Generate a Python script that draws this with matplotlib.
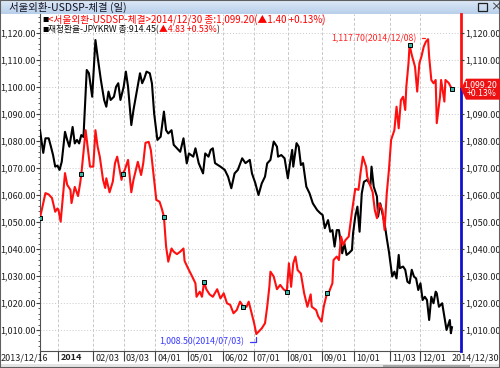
import matplotlib
matplotlib.use("Agg")
import matplotlib.pyplot as plt
import matplotlib.dates as mdates
import matplotlib.transforms as mtrans
import numpy as np
import pandas as pd
from matplotlib.patches import Rectangle, Polygon

plt.rcParams['font.family'] = ['Noto Sans CJK KR', 'DejaVu Sans']

# USD/KRW close (red)
usd_dates = [
    '2013-12-16', '2013-12-21', '2013-12-24', '2013-12-27', '2013-12-30', '2014-01-01', '2014-01-02',
    '2014-01-04', '2014-01-08', '2014-01-10', '2014-01-13', '2014-01-14', '2014-01-17', '2014-01-20',
    '2014-01-22', '2014-01-23', '2014-01-27', '2014-01-31', '2014-02-03', '2014-02-05', '2014-02-07',
    '2014-02-09', '2014-02-12', '2014-02-14', '2014-02-15', '2014-02-18', '2014-02-21', '2014-02-23',
    '2014-02-25', '2014-03-01', '2014-03-02', '2014-03-04', '2014-03-07', '2014-03-10', '2014-03-12',
    '2014-03-15', '2014-03-16', '2014-03-19', '2014-03-21', '2014-03-23', '2014-03-26', '2014-03-28',
    '2014-03-30', '2014-04-02', '2014-04-05', '2014-04-07', '2014-04-09', '2014-04-11', '2014-04-13',
    '2014-04-16', '2014-04-18', '2014-04-21', '2014-04-24', '2014-04-27', '2014-04-28', '2014-05-01',
    '2014-05-05', '2014-05-08', '2014-05-09', '2014-05-12', '2014-05-14', '2014-05-16', '2014-05-18',
    '2014-05-21', '2014-05-24', '2014-05-28', '2014-05-31', '2014-06-03', '2014-06-06', '2014-06-09',
    '2014-06-12', '2014-06-15', '2014-06-18', '2014-06-21', '2014-06-24', '2014-06-26', '2014-06-29',
    '2014-07-01', '2014-07-03', '2014-07-08', '2014-07-11', '2014-07-13', '2014-07-15', '2014-07-16',
    '2014-07-19', '2014-07-22', '2014-07-25', '2014-07-28', '2014-07-31', '2014-08-02', '2014-08-04',
    '2014-08-06', '2014-08-08', '2014-08-10', '2014-08-13', '2014-08-16', '2014-08-19', '2014-08-22',
    '2014-08-23', '2014-08-27', '2014-08-29', '2014-09-01', '2014-09-03', '2014-09-06', '2014-09-08',
    '2014-09-11', '2014-09-12', '2014-09-15', '2014-09-17', '2014-09-19', '2014-09-21', '2014-09-23',
    '2014-09-26', '2014-09-29', '2014-10-02', '2014-10-05', '2014-10-07', '2014-10-09', '2014-10-12',
    '2014-10-13', '2014-10-15', '2014-10-18', '2014-10-20', '2014-10-22', '2014-10-24', '2014-10-27',
    '2014-10-29', '2014-10-31', '2014-11-02', '2014-11-04', '2014-11-07', '2014-11-09', '2014-11-11',
    '2014-11-13', '2014-11-15', '2014-11-17', '2014-11-18', '2014-11-20', '2014-11-21', '2014-11-23',
    '2014-11-26', '2014-11-28', '2014-11-30', '2014-12-02', '2014-12-04', '2014-12-06', '2014-12-08',
    '2014-12-09', '2014-12-11', '2014-12-13', '2014-12-15', '2014-12-16', '2014-12-19', '2014-12-20',
    '2014-12-23', '2014-12-24', '2014-12-27', '2014-12-30',
]
usd_close = [
    1051.5, 1060.7, 1060.2, 1058.9, 1053.8, 1055.0, 1054.5,
    1050.1, 1068.1, 1063.8, 1061.9, 1057.0, 1063.0, 1059.6,
    1064.5, 1067.6, 1084.0, 1070.5, 1070.5, 1084.0, 1077.9,
    1074.2, 1065.6, 1062.6, 1066.2, 1061.0, 1065.0, 1071.8,
    1074.2, 1065.6, 1067.8, 1069.3, 1073.0, 1061.0, 1065.6,
    1070.5, 1072.3, 1067.4, 1071.8, 1079.3, 1079.7, 1076.6,
    1069.3, 1058.2, 1057.5, 1055.0, 1052.0, 1040.9, 1035.3,
    1040.2, 1039.0, 1038.1, 1039.0, 1040.2, 1035.6, 1033.0,
    1029.8, 1027.3, 1022.3, 1024.2, 1022.3, 1027.8, 1025.1,
    1023.2, 1022.3, 1025.1, 1021.7, 1023.6, 1019.9, 1019.3,
    1016.2, 1017.4, 1020.5, 1018.6, 1018.6, 1020.5, 1015.6,
    1012.5, 1008.5, 1010.6, 1012.5, 1018.6, 1026.0, 1031.6,
    1029.8, 1025.1, 1026.7, 1025.1, 1024.2, 1034.7, 1026.0,
    1034.7, 1037.2, 1032.2, 1030.9, 1023.6, 1018.6, 1023.2,
    1018.6, 1017.4, 1015.0, 1013.1, 1018.6, 1023.6, 1024.2,
    1027.3, 1035.9, 1037.2, 1035.9, 1044.6, 1041.5, 1043.3,
    1044.6, 1053.8, 1062.3, 1061.9, 1068.6, 1074.2, 1070.5,
    1066.8, 1064.3, 1061.1, 1054.4, 1051.4, 1056.9, 1054.4,
    1047.0, 1060.6, 1069.3, 1080.4, 1084.0, 1092.7, 1084.7,
    1095.1, 1096.4, 1091.5, 1100.1, 1108.8, 1115.6, 1111.9,
    1107.5, 1098.3, 1108.8, 1111.4, 1114.9, 1116.8, 1117.7,
    1111.2, 1102.6, 1101.4, 1102.6, 1086.6, 1096.4, 1102.6,
    1094.6, 1102.6, 1101.5, 1099.2,
]

# JPY/KRW overlay (black), drawn on the same price scale
jpy_dates = [
    '2013-12-16', '2013-12-19', '2013-12-21', '2013-12-24', '2013-12-26', '2013-12-28', '2013-12-30',
    '2014-01-01', '2014-01-03', '2014-01-05', '2014-01-08', '2014-01-10', '2014-01-12', '2014-01-15',
    '2014-01-17', '2014-01-19', '2014-01-21', '2014-01-23', '2014-01-25', '2014-01-28', '2014-01-30',
    '2014-02-02', '2014-02-05', '2014-02-07', '2014-02-10', '2014-02-13', '2014-02-15', '2014-02-17',
    '2014-02-19', '2014-02-22', '2014-02-24', '2014-02-26', '2014-02-28', '2014-03-03', '2014-03-05',
    '2014-03-07', '2014-03-10', '2014-03-12', '2014-03-15', '2014-03-18', '2014-03-20', '2014-03-22',
    '2014-03-24', '2014-03-27', '2014-03-29', '2014-03-31', '2014-04-03', '2014-04-06', '2014-04-09',
    '2014-04-11', '2014-04-13', '2014-04-16', '2014-04-18', '2014-04-21', '2014-04-24', '2014-04-27',
    '2014-04-30', '2014-05-02', '2014-05-06', '2014-05-08', '2014-05-11', '2014-05-15', '2014-05-17',
    '2014-05-20', '2014-05-22', '2014-05-24', '2014-05-26', '2014-05-31', '2014-06-04', '2014-06-07',
    '2014-06-10', '2014-06-13', '2014-06-16', '2014-06-20', '2014-06-23', '2014-06-27', '2014-06-29',
    '2014-07-02', '2014-07-05', '2014-07-08', '2014-07-11', '2014-07-13', '2014-07-16', '2014-07-19',
    '2014-07-22', '2014-07-23', '2014-07-26', '2014-07-29', '2014-08-01', '2014-08-03', '2014-08-05',
    '2014-08-06', '2014-08-09', '2014-08-11', '2014-08-13', '2014-08-15', '2014-08-18', '2014-08-21',
    '2014-08-24', '2014-08-28', '2014-08-31', '2014-09-02', '2014-09-04', '2014-09-07', '2014-09-09',
    '2014-09-11', '2014-09-13', '2014-09-15', '2014-09-17', '2014-09-20', '2014-09-22', '2014-09-24',
    '2014-09-26', '2014-09-29', '2014-09-30', '2014-10-02', '2014-10-04', '2014-10-06', '2014-10-08',
    '2014-10-10', '2014-10-13', '2014-10-16', '2014-10-17', '2014-10-19', '2014-10-22', '2014-10-23',
    '2014-10-25', '2014-10-27', '2014-10-29', '2014-10-31', '2014-11-02', '2014-11-05', '2014-11-07',
    '2014-11-09', '2014-11-11', '2014-11-12', '2014-11-15', '2014-11-17', '2014-11-19', '2014-11-21',
    '2014-11-23', '2014-11-25', '2014-11-27', '2014-11-29', '2014-12-01', '2014-12-03', '2014-12-05',
    '2014-12-07', '2014-12-09', '2014-12-11', '2014-12-13', '2014-12-15', '2014-12-16', '2014-12-18',
    '2014-12-21', '2014-12-23', '2014-12-25', '2014-12-28', '2014-12-29', '2014-12-30',
]
jpy_close = [
    1084.0, 1075.6, 1081.0, 1081.0, 1078.0, 1074.8, 1070.5,
    1070.9, 1069.3, 1072.3, 1083.4, 1080.4, 1077.9, 1085.2,
    1079.1, 1080.4, 1079.1, 1082.2, 1081.5, 1106.3, 1105.1,
    1096.4, 1117.4, 1111.2, 1102.6, 1095.2, 1092.7, 1098.3,
    1095.2, 1096.4, 1100.1, 1101.4, 1095.2, 1100.1, 1105.7,
    1100.1, 1085.9, 1091.5, 1098.3, 1105.1, 1101.4, 1103.2,
    1105.7, 1105.1, 1101.3, 1090.2, 1080.4, 1081.6, 1090.9,
    1084.0, 1082.8, 1084.0, 1078.6, 1077.3, 1076.0, 1081.0,
    1071.7, 1075.4, 1074.2, 1077.3, 1071.8, 1068.0, 1075.4,
    1074.2, 1076.7, 1077.3, 1071.8, 1070.5, 1069.3, 1066.8,
    1062.5, 1068.0, 1069.3, 1073.6, 1071.8, 1073.0, 1068.0,
    1064.5, 1060.0, 1064.3, 1066.8, 1071.7, 1073.0, 1079.8,
    1077.9, 1074.2, 1074.8, 1073.6, 1066.2, 1071.8, 1076.7,
    1070.5, 1079.2, 1077.9, 1071.1, 1071.8, 1063.1, 1060.6,
    1056.9, 1054.4, 1053.2, 1052.6, 1047.7, 1050.7, 1046.4,
    1047.0, 1040.9, 1047.0, 1047.0, 1038.4, 1042.1, 1037.8,
    1038.4, 1039.6, 1045.8, 1052.0, 1055.7, 1046.4, 1060.6,
    1064.9, 1065.6, 1063.7, 1070.5, 1063.1, 1059.4, 1052.0,
    1056.9, 1053.2, 1049.5, 1044.0, 1039.0, 1029.8, 1031.6,
    1029.1, 1037.8, 1032.9, 1033.5, 1032.3, 1027.9, 1027.3,
    1032.3, 1029.8, 1029.1, 1024.8, 1027.3, 1021.1, 1022.3,
    1021.1, 1013.7, 1022.3, 1019.9, 1024.2, 1023.6, 1018.6,
    1019.9, 1015.0, 1010.0, 1013.7, 1008.8, 1011.0,
]

signal_dates = ['2013-12-16', '2014-01-23', '2014-03-02', '2014-04-09', '2014-05-16',
                '2014-06-21', '2014-07-31', '2014-09-06', '2014-11-21', '2014-12-30']

tick_dates = ['2013-12-16', '2014-01-02', '2014-02-03', '2014-03-03', '2014-04-01', '2014-05-01',
              '2014-06-02', '2014-07-01', '2014-08-01', '2014-09-01', '2014-10-01', '2014-11-03',
              '2014-12-01']
tick_labels = ['', '2014', '02/03', '03/03', '04/01', '05/01', '06/02', '07/01', '08/01',
               '09/01', '10/01', '11/03', '12/01']
y_ticks = [1010, 1020, 1030, 1040, 1050, 1060, 1070, 1080, 1090, 1100, 1110, 1120]

usd = pd.Series(usd_close, index=pd.to_datetime(usd_dates))
jpy = pd.Series(jpy_close, index=pd.to_datetime(jpy_dates))

W, H = 500, 368
fig = plt.figure(figsize=(W / 100, H / 100), dpi=100)
fig.patch.set_facecolor('white')

def fx(px):
    return px / W

def fy(py):
    return 1 - py / H

# title bar with a soft blue gradient
bar = fig.add_axes([0, fy(14), 1, 14 / H])
grad = np.linspace(0, 1, 20).reshape(-1, 1)
bar.imshow(grad, aspect='auto', cmap=matplotlib.colors.LinearSegmentedColormap.from_list(
    'bar', ['#dde9f7', '#b9cfea']), extent=[0, 1, 0, 1])
bar.set_axis_off()
fig.text(fx(9), fy(7), '서울외환-USDSP-체결 (일)', fontsize=7.5, va='center', color='#101020')
fig.patches.append(Rectangle((fx(478), fy(11)), fx(9), 8 / H, transform=fig.transFigure,
                             fill=False, edgecolor='#202020', lw=0.9))
fig.text(fx(490), fy(7), '×', fontsize=8, va='center', color='#202020')

# bottom strip
fig.patches.append(Rectangle((0, 0), 1, 4 / H, transform=fig.transFigure,
                             facecolor='#e4e4e4', edgecolor='none'))
fig.patches.append(Rectangle((fx(383), 0), fx(87), 3 / H, transform=fig.transFigure,
                             facecolor='#a8a8a8', edgecolor='none'))

ax = fig.add_axes([fx(40), 17 / H, 421 / W, 337 / H])
x0 = mdates.date2num(pd.Timestamp('2013-12-16'))
ax.set_xlim(x0, x0 + 387.3)
ax.set_ylim(1002.22, 1127.04)

ax.plot(jpy.index, jpy.values, color='black', lw=1.5, zorder=3)
ax.plot(usd.index, usd.values, color='#ff1010', lw=1.5, zorder=4)
sig = usd.loc[pd.to_datetime(signal_dates)]
ax.plot(sig.index, sig.values, 's', ms=3.5, mfc='#3cb8a8', mec='black', mew=0.7, zorder=5)

ax.set_yticks(y_ticks)
ax.set_yticklabels([f'{v:,.2f}' for v in y_ticks], fontsize=6.5, color='#202020')
ax.yaxis.set_minor_locator(matplotlib.ticker.MultipleLocator(2))
ax.tick_params(axis='y', which='major', length=3, width=0.8, color='#404040', pad=0)
ax.tick_params(axis='y', which='minor', length=1.5, width=0.6, color='#404040')
ax.set_xticks(pd.to_datetime(tick_dates))
ax.set_xticklabels(tick_labels, fontsize=6.5, color='#202020', ha='left')
ax.get_xticklabels()[1].set_fontweight('bold')
ax.tick_params(axis='x', length=7, width=0.8, color='#404040', pad=-5.5)
offset = mtrans.ScaledTranslation(2 / 100, 0, fig.dpi_scale_trans)
for lab in ax.get_xticklabels():
    lab.set_transform(lab.get_transform() + offset)

ax.grid(True, axis='y', color='#c8c8c8', ls=(0, (1, 2)), lw=0.7)
ax.grid(True, axis='x', color='#c8c8c8', ls=(0, (3, 2)), lw=0.7)
for s in ['top', 'right']:
    ax.spines[s].set_visible(False)
ax.spines['left'].set_color('#505050')
ax.spines['bottom'].set_color('#505050')

fig.text(fx(1), fy(358), '2013/12/16', fontsize=6.5, va='center', color='#202020')
fig.text(fx(499), fy(358), '2014/12/30', fontsize=6.5, va='center', ha='right', color='#202020')

# right price scale (the last-price tag covers 1,100.00)
ax2 = ax.twinx()
ax2.set_ylim(ax.get_ylim())
ax2.set_yticks(y_ticks)
ax2.set_yticklabels(['' if v == 1100 else f'{v:,.2f}' for v in y_ticks], fontsize=6.5, color='#202020')
ax2.tick_params(axis='y', length=2, width=0.8, color='#404040', pad=1)
for s in ax2.spines.values():
    s.set_visible(False)

last = usd.iloc[-1]
ymin, ymax = ax.get_ylim()
frac = (last - ymin) / (ymax - ymin)
ax.axvline(ax.get_xlim()[1], ymin=frac, ymax=1, color='#ff1010', lw=2, clip_on=False, zorder=6)
ax.axvline(ax.get_xlim()[1], ymin=0, ymax=frac, color='#1010d0', lw=2, clip_on=False, zorder=6)

# last price tag
ty = ax.transData.transform((x0, last))[1] / fig.dpi / (H / 100)
hh = 10.5 / H
tag = Polygon([(fx(461), ty), (fx(466), ty + hh), (1.0, ty + hh), (1.0, ty - hh), (fx(466), ty - hh)],
              closed=True, transform=fig.transFigure, facecolor='#ee1111', edgecolor='none', zorder=10)
fig.patches.append(tag)
fig.text(fx(497), ty + 4.5 / H, f'{last:,.2f}', fontsize=6.3, ha='right', va='center', color='white', zorder=11)
fig.text(fx(497), ty - 4.5 / H, '+0.13%', fontsize=6.3, ha='right', va='center', color='white', zorder=11)

# max / min annotations
imax = usd.idxmax()
imin = usd.idxmin()
ax.annotate(f'{usd.max():,.2f}({imax:%Y/%m/%d})', xy=(imax, usd.max()), xytext=(-12, 1),
            textcoords='offset pixels', ha='right', va='center', fontsize=6.3, color='#ff2020',
            arrowprops=dict(arrowstyle='-', color='#ff2020', lw=0.9,
                            connectionstyle='angle,angleA=0,angleB=90,rad=0'), zorder=7)
ax.annotate(f'{usd.min():,.2f}({imin:%Y/%m/%d})', xy=(imin, usd.min()), xytext=(-12, -8),
            textcoords='offset pixels', ha='right', va='center', fontsize=6.3, color='#3838ff',
            arrowprops=dict(arrowstyle='-', color='#3838ff', lw=0.9,
                            connectionstyle='angle,angleA=0,angleB=90,rad=0'),
            annotation_clip=False, zorder=7)

# legend lines
t = fig.text(fx(42), fy(20), '■', fontsize=4.5, va='center', color='black')
ax.annotate('<서울외환-USDSP-체결>2014/12/30 종:1,099.20(▲1.40 +0.13%)', xy=(1, 0.5),
            xycoords=t, va='center', fontsize=7, color='#ff0000', annotation_clip=False)
t = fig.text(fx(42), fy(30), '■', fontsize=4.5, va='center', color='black')
t = ax.annotate('재정환율-JPYKRW 종:914.45(', xy=(1, 0.5), xycoords=t, va='center',
                fontsize=6.3, color='#101010', annotation_clip=False)
t = ax.annotate('▲4.83 +0.53%', xy=(1, 0.5), xycoords=t, va='center',
                fontsize=6.3, color='#ff0000', annotation_clip=False)
ax.annotate(')', xy=(1, 0.5), xycoords=t, va='center',
            fontsize=6.3, color='#101010', annotation_clip=False)

# thin outer frame
fig.patches.append(Rectangle((0, 0), 1, 1, transform=fig.transFigure, fill=False,
                             edgecolor='#606060', lw=1.5))

fig.savefig('out.png', dpi=100)
